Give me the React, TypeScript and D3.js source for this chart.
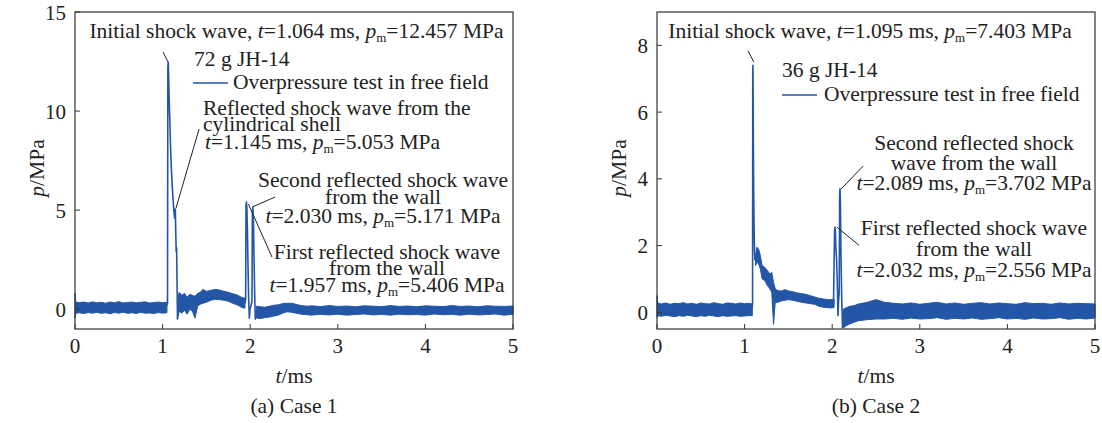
import React from "react";
import * as d3 from "d3";

// ---------- DATA ----------
const xTicks = [0, 1, 2, 3, 4, 5];
const case1YTicks = [0, 5, 10, 15];
const case2YTicks = [0, 2, 4, 6, 8];

// Case 1: noise band envelopes [t, low, high] (MPa)
const case1BandPre: [number, number, number][] = [
  [0.0, -0.45, 0.8], [0.01, -0.2, 0.35], [0.05, -0.18, 0.33], [0.1, -0.22, 0.36],
  [0.15, -0.17, 0.31], [0.2, -0.2, 0.37], [0.25, -0.16, 0.32], [0.3, -0.21, 0.35],
  [0.35, -0.18, 0.3], [0.4, -0.23, 0.36], [0.45, -0.17, 0.33], [0.5, -0.2, 0.38],
  [0.55, -0.15, 0.31], [0.6, -0.21, 0.34], [0.65, -0.18, 0.36], [0.7, -0.22, 0.32],
  [0.75, -0.16, 0.35], [0.8, -0.2, 0.37], [0.85, -0.19, 0.31], [0.9, -0.22, 0.34],
  [0.95, -0.17, 0.36], [1.0, -0.2, 0.33], [1.05, -0.18, 0.35],
];
const case1BandMid: [number, number, number][] = [
  [1.17, -0.5, 0.5], [1.19, -0.1, 0.85], [1.22, -0.2, 0.7], [1.25, -0.05, 0.8],
  [1.28, -0.25, 0.6], [1.31, 0.0, 0.75], [1.34, -0.1, 0.7], [1.37, -0.45, 0.65],
  [1.4, 0.15, 0.8], [1.43, 0.25, 0.85], [1.46, 0.3, 1.0], [1.5, 0.35, 0.9],
  [1.55, 0.45, 0.95], [1.6, 0.5, 1.0], [1.65, 0.48, 0.97], [1.7, 0.45, 0.9],
  [1.75, 0.4, 0.85], [1.8, 0.3, 0.78], [1.85, 0.22, 0.72], [1.9, 0.1, 0.6],
  [1.94, 0.05, 0.55],
];
const case1BandPost: [number, number, number][] = [
  [2.07, -0.45, 0.15], [2.12, -0.47, 0.12], [2.17, -0.42, 0.1], [2.22, -0.4, 0.15],
  [2.27, -0.35, 0.2], [2.32, -0.3, 0.22], [2.37, -0.2, 0.28], [2.42, -0.13, 0.3],
  [2.47, -0.15, 0.3], [2.52, -0.2, 0.25], [2.58, -0.25, 0.18], [2.65, -0.28, 0.15],
  [2.7, -0.3, 0.17], [2.8, -0.26, 0.13], [2.9, -0.29, 0.18], [3.0, -0.25, 0.14],
  [3.1, -0.3, 0.16], [3.2, -0.27, 0.12], [3.3, -0.24, 0.17], [3.4, -0.29, 0.15],
  [3.5, -0.26, 0.13], [3.6, -0.3, 0.18], [3.7, -0.25, 0.14], [3.8, -0.28, 0.16],
  [3.9, -0.27, 0.12], [4.0, -0.3, 0.17], [4.1, -0.24, 0.15], [4.2, -0.28, 0.13],
  [4.3, -0.26, 0.18], [4.4, -0.3, 0.14], [4.5, -0.25, 0.16], [4.6, -0.29, 0.12],
  [4.7, -0.27, 0.17], [4.8, -0.24, 0.15], [4.9, -0.3, 0.14], [5.0, -0.26, 0.16],
];
// Case 1: main pulses [t, p]
const case1Pulse1: [number, number][] = [
  [1.05, 0.2], [1.056, 0.3], [1.06, 12.2], [1.064, 12.457], [1.068, 11.9], [1.074, 10.8],
  [1.082, 9.6], [1.09, 8.3], [1.1, 7.1], [1.11, 6.2], [1.12, 5.5], [1.13, 4.9],
  [1.138, 4.6], [1.145, 5.053], [1.15, 3.9], [1.155, 2.9], [1.16, 3.1], [1.165, 1.3],
  [1.17, -0.5], [1.175, 0.5],
];
const case1Pulse2: [number, number][] = [
  [1.94, 0.3], [1.948, 0.5], [1.952, 5.2], [1.957, 5.406], [1.962, 5.1], [1.968, 4.0],
  [1.975, 2.2], [1.982, 0.6], [1.99, -0.45], [1.998, 0.0], [2.01, 0.2], [2.02, 0.4],
  [2.025, 4.9], [2.03, 5.171], [2.036, 4.6], [2.043, 2.8], [2.05, 1.0], [2.058, -0.5],
  [2.07, -0.1],
];

// Case 2
const case2BandPre: [number, number, number][] = [
  [0.0, -0.15, 0.5], [0.01, -0.1, 0.27], [0.05, -0.12, 0.25], [0.1, -0.09, 0.28],
  [0.15, -0.11, 0.24], [0.2, -0.13, 0.27], [0.25, -0.1, 0.26], [0.3, -0.12, 0.29],
  [0.35, -0.09, 0.25], [0.4, -0.11, 0.27], [0.45, -0.13, 0.24], [0.5, -0.1, 0.28],
  [0.55, -0.12, 0.26], [0.6, -0.09, 0.25], [0.65, -0.11, 0.29], [0.7, -0.13, 0.26],
  [0.75, -0.1, 0.24], [0.8, -0.12, 0.28], [0.85, -0.11, 0.27], [0.9, -0.1, 0.25],
  [0.95, -0.12, 0.28], [1.0, -0.11, 0.26], [1.05, -0.1, 0.27], [1.088, -0.1, 0.25],
];
const case2BandMid: [number, number, number][] = [
  [1.125, 1.4, 1.7], [1.14, 1.5, 1.95], [1.16, 1.45, 1.9], [1.18, 1.3, 1.7],
  [1.2, 1.0, 1.4], [1.23, 0.95, 1.35], [1.26, 0.8, 1.25], [1.29, 0.7, 1.15],
  [1.31, 0.6, 1.2], [1.33, -0.36, 0.9], [1.35, 0.3, 0.7], [1.38, 0.3, 0.65],
  [1.42, 0.34, 0.64], [1.46, 0.36, 0.68], [1.5, 0.38, 0.64], [1.55, 0.36, 0.62],
  [1.6, 0.33, 0.58], [1.65, 0.3, 0.56], [1.7, 0.28, 0.54], [1.75, 0.26, 0.5],
  [1.8, 0.24, 0.46], [1.85, 0.18, 0.42], [1.9, 0.15, 0.4], [1.95, 0.14, 0.38],
  [2.0, 0.13, 0.38], [2.022, 0.15, 0.4],
];
const case2BandPost: [number, number, number][] = [
  [2.13, -0.46, 0.1], [2.16, -0.4, 0.14], [2.2, -0.35, 0.18], [2.25, -0.3, 0.2],
  [2.3, -0.25, 0.25], [2.4, -0.22, 0.3], [2.5, -0.2, 0.38], [2.6, -0.2, 0.3],
  [2.7, -0.18, 0.27], [2.8, -0.21, 0.25], [2.9, -0.17, 0.28], [3.0, -0.2, 0.24],
  [3.1, -0.19, 0.27], [3.2, -0.16, 0.3], [3.3, -0.21, 0.25], [3.4, -0.18, 0.28],
  [3.5, -0.2, 0.24], [3.6, -0.17, 0.27], [3.7, -0.21, 0.29], [3.8, -0.19, 0.25],
  [3.9, -0.16, 0.28], [4.0, -0.2, 0.26], [4.1, -0.18, 0.24], [4.2, -0.21, 0.29],
  [4.3, -0.17, 0.26], [4.4, -0.2, 0.27], [4.5, -0.19, 0.24], [4.6, -0.16, 0.28],
  [4.7, -0.21, 0.25], [4.8, -0.18, 0.27], [4.9, -0.2, 0.26], [5.0, -0.17, 0.25],
];
const case2Pulse1: [number, number][] = [
  [1.085, 0.1], [1.091, 0.25], [1.093, 7.2], [1.095, 7.403], [1.097, 6.6], [1.1, 5.0],
  [1.104, 3.6], [1.108, 2.6], [1.112, 2.0], [1.117, 1.6], [1.125, 1.55],
];
const case2Pulse2: [number, number][] = [
  [2.015, 0.3], [2.027, 2.45], [2.032, 2.556], [2.037, 2.4], [2.042, 1.9], [2.05, 1.6],
  [2.058, 0.9], [2.066, -0.1], [2.072, 0.3], [2.08, 0.6], [2.085, 3.5], [2.089, 3.702],
  [2.094, 3.2], [2.1, 1.8], [2.108, 0.5], [2.118, -0.46], [2.13, 0.0],
];

// Peak annotations
const case1Peaks = {
  initial: { t: 1.064, pm: 12.457 },
  shell: { t: 1.145, pm: 5.053 },
  second: { t: 2.03, pm: 5.171 },
  first: { t: 1.957, pm: 5.406 },
};
const case2Peaks = {
  initial: { t: 1.095, pm: 7.403 },
  second: { t: 2.089, pm: 3.702 },
  first: { t: 2.032, pm: 2.556 },
};

// ---------- STYLE ----------
const FONT = "'Liberation Serif', 'Times New Roman', serif";
const BLUE = "#2456a8";
const AX = "#333";
const FS = 21.5;
const TFS = 21;

type Panel = {
  x0: number; x1: number; y0: number; y1: number; yDomain: [number, number];
};

function valueParts(t: number, pm: number) {
  return (
    <>
      <tspan fontStyle="italic">t</tspan>
      <tspan>{`=${t.toFixed(3)} ms, `}</tspan>
      <tspan fontStyle="italic">p</tspan>
      <tspan fontSize={13} dy={4}>m</tspan>
      <tspan dy={-4}>{`=${pm.toFixed(3)} MPa`}</tspan>
    </>
  );
}

function Axes({ p, yTicks, x, y }: { p: Panel; yTicks: number[]; x: any; y: any }) {
  return (
    <g>
      <rect x={p.x0} y={p.y0} width={p.x1 - p.x0} height={p.y1 - p.y0} fill="none" stroke={AX} strokeWidth={1.2} />
      {xTicks.map((t) => (
        <g key={"x" + t}>
          <line x1={x(t)} x2={x(t)} y1={p.y1} y2={p.y1 - 5} stroke={AX} />
          <text x={x(t)} y={p.y1 + 24} textAnchor="middle" fontSize={TFS} fontFamily={FONT} fill="#222">{t}</text>
        </g>
      ))}
      {yTicks.map((v) => (
        <g key={"y" + v}>
          <line x1={p.x0} x2={p.x0 + 5} y1={y(v)} y2={y(v)} stroke={AX} />
          <text x={p.x0 - 9} y={y(v) + 7.5} textAnchor="end" fontSize={TFS} fontFamily={FONT} fill="#222">{v}</text>
        </g>
      ))}
    </g>
  );
}

function Signal({ bands, pulses, x, y }: { bands: [number, number, number][][]; pulses: [number, number][][]; x: any; y: any }) {
  const area = d3.area<[number, number, number]>().x((d) => x(d[0])).y0((d) => y(d[1])).y1((d) => y(d[2]));
  const line = d3.line<[number, number]>().x((d) => x(d[0])).y((d) => y(d[1]));
  return (
    <g>
      {bands.map((b, i) => (
        <path key={"b" + i} d={area(b) || ""} fill={BLUE} stroke={BLUE} strokeWidth={1} strokeLinejoin="round" />
      ))}
      {pulses.map((pl, i) => (
        <path key={"p" + i} d={line(pl) || ""} fill="none" stroke={BLUE} strokeWidth={1.6} strokeLinejoin="round" />
      ))}
    </g>
  );
}

export default function App() {
  const W = 1102, H = 423;
  const p1: Panel = { x0: 75, x1: 513, y0: 12, y1: 329, yDomain: [-1, 15] };
  const p2: Panel = { x0: 657, x1: 1095, y0: 12, y1: 329, yDomain: [-0.5, 9] };
  const x1 = d3.scaleLinear().domain([0, 5]).range([p1.x0, p1.x1]);
  const y1 = d3.scaleLinear().domain(p1.yDomain).range([p1.y1, p1.y0]);
  const x2 = d3.scaleLinear().domain([0, 5]).range([p2.x0, p2.x1]);
  const y2 = d3.scaleLinear().domain(p2.yDomain).range([p2.y1, p2.y0]);

  const txt = { fontSize: FS, fontFamily: FONT, fill: "#222" } as const;
  const lead = { stroke: "#222", strokeWidth: 1 } as const;

  return (
    <svg width={W} height={H} style={{ position: "absolute", left: 0, top: 0, background: "#fff" }}>
      {/* ---------- Case 1 ---------- */}
      <Signal bands={[case1BandPre, case1BandMid, case1BandPost]} pulses={[case1Pulse1, case1Pulse2]} x={x1} y={y1} />
      <Axes p={p1} yTicks={case1YTicks} x={x1} y={y1} />
      <text {...txt} x={296.5} y={38} textAnchor="middle">Initial shock wave, {valueParts(case1Peaks.initial.t, case1Peaks.initial.pm)}</text>
      <line {...lead} x1={x1(1.005)} y1={y1(12.98)} x2={x1(case1Peaks.initial.t)} y2={y1(case1Peaks.initial.pm)} />
      <text {...txt} x={194} y={66}>72 g JH-14</text>
      <line x1={193} x2={228} y1={83} y2={83} stroke={BLUE} strokeWidth={1.5} />
      <text {...txt} x={233} y={89}>Overpressure test in free field</text>
      <text {...txt} x={203} y={115}>Reflected shock wave from the</text>
      <text {...txt} x={203} y={131}>cylindrical shell</text>
      <text {...txt} x={205} y={149}>{valueParts(case1Peaks.shell.t, case1Peaks.shell.pm)}</text>
      <line {...lead} x1={x1(1.416)} y1={y1(9.09)} x2={x1(1.153)} y2={y1(5.1)} />
      <text {...txt} x={383} y={187} textAnchor="middle">Second reflected shock wave</text>
      <text {...txt} x={383} y={204} textAnchor="middle">from the wall</text>
      <text {...txt} x={383} y={223} textAnchor="middle">{valueParts(case1Peaks.second.t, case1Peaks.second.pm)}</text>
      <line {...lead} x1={x1(2.283)} y1={y1(5.66)} x2={x1(case1Peaks.second.t)} y2={y1(case1Peaks.second.pm)} />
      <text {...txt} x={387} y={259} textAnchor="middle">First reflected shock wave</text>
      <text {...txt} x={387} y={275} textAnchor="middle">from the wall</text>
      <text {...txt} x={387} y={292} textAnchor="middle">{valueParts(case1Peaks.first.t, case1Peaks.first.pm)}</text>
      <line {...lead} x1={x1(2.249)} y1={y1(2.63)} x2={x1(1.98)} y2={y1(5.3)} />
      <text {...txt} transform={`translate(44,168) rotate(-90)`} textAnchor="middle"><tspan fontStyle="italic">p</tspan>/MPa</text>
      <text {...txt} x={294} y={383} textAnchor="middle"><tspan fontStyle="italic">t</tspan>/ms</text>
      <text {...txt} x={294} y={413} textAnchor="middle">(a) Case 1</text>

      {/* ---------- Case 2 ---------- */}
      <Signal bands={[case2BandPre, case2BandMid, case2BandPost]} pulses={[case2Pulse1, case2Pulse2]} x={x2} y={y2} />
      <Axes p={p2} yTicks={case2YTicks} x={x2} y={y2} />
      <text {...txt} x={870} y={38} textAnchor="middle">Initial shock wave, {valueParts(case2Peaks.initial.t, case2Peaks.initial.pm)}</text>
      <line {...lead} x1={x2(1.039)} y1={y2(7.84)} x2={x2(1.105)} y2={y2(7.5)} />
      <text {...txt} x={782} y={77}>36 g JH-14</text>
      <line x1={782} x2={817} y1={95} y2={95} stroke={BLUE} strokeWidth={1.5} />
      <text {...txt} x={824} y={101}>Overpressure test in free field</text>
      <text {...txt} x={974} y={150} textAnchor="middle">Second reflected shock</text>
      <text {...txt} x={974} y={170} textAnchor="middle">wave from the wall</text>
      <text {...txt} x={974} y={190} textAnchor="middle">{valueParts(case2Peaks.second.t, case2Peaks.second.pm)}</text>
      <line {...lead} x1={x2(2.352)} y1={y2(4.38)} x2={x2(2.1)} y2={y2(3.69)} />
      <text {...txt} x={974} y={235} textAnchor="middle">First reflected shock wave</text>
      <text {...txt} x={974} y={256} textAnchor="middle">from the wall</text>
      <text {...txt} x={974} y={277} textAnchor="middle">{valueParts(case2Peaks.first.t, case2Peaks.first.pm)}</text>
      <line {...lead} x1={x2(2.306)} y1={y2(2.01)} x2={x2(2.055)} y2={y2(2.55)} />
      <text {...txt} transform={`translate(626,168) rotate(-90)`} textAnchor="middle"><tspan fontStyle="italic">p</tspan>/MPa</text>
      <text {...txt} x={876} y={383} textAnchor="middle"><tspan fontStyle="italic">t</tspan>/ms</text>
      <text {...txt} x={876} y={413} textAnchor="middle">(b) Case 2</text>
    </svg>
  );
}
